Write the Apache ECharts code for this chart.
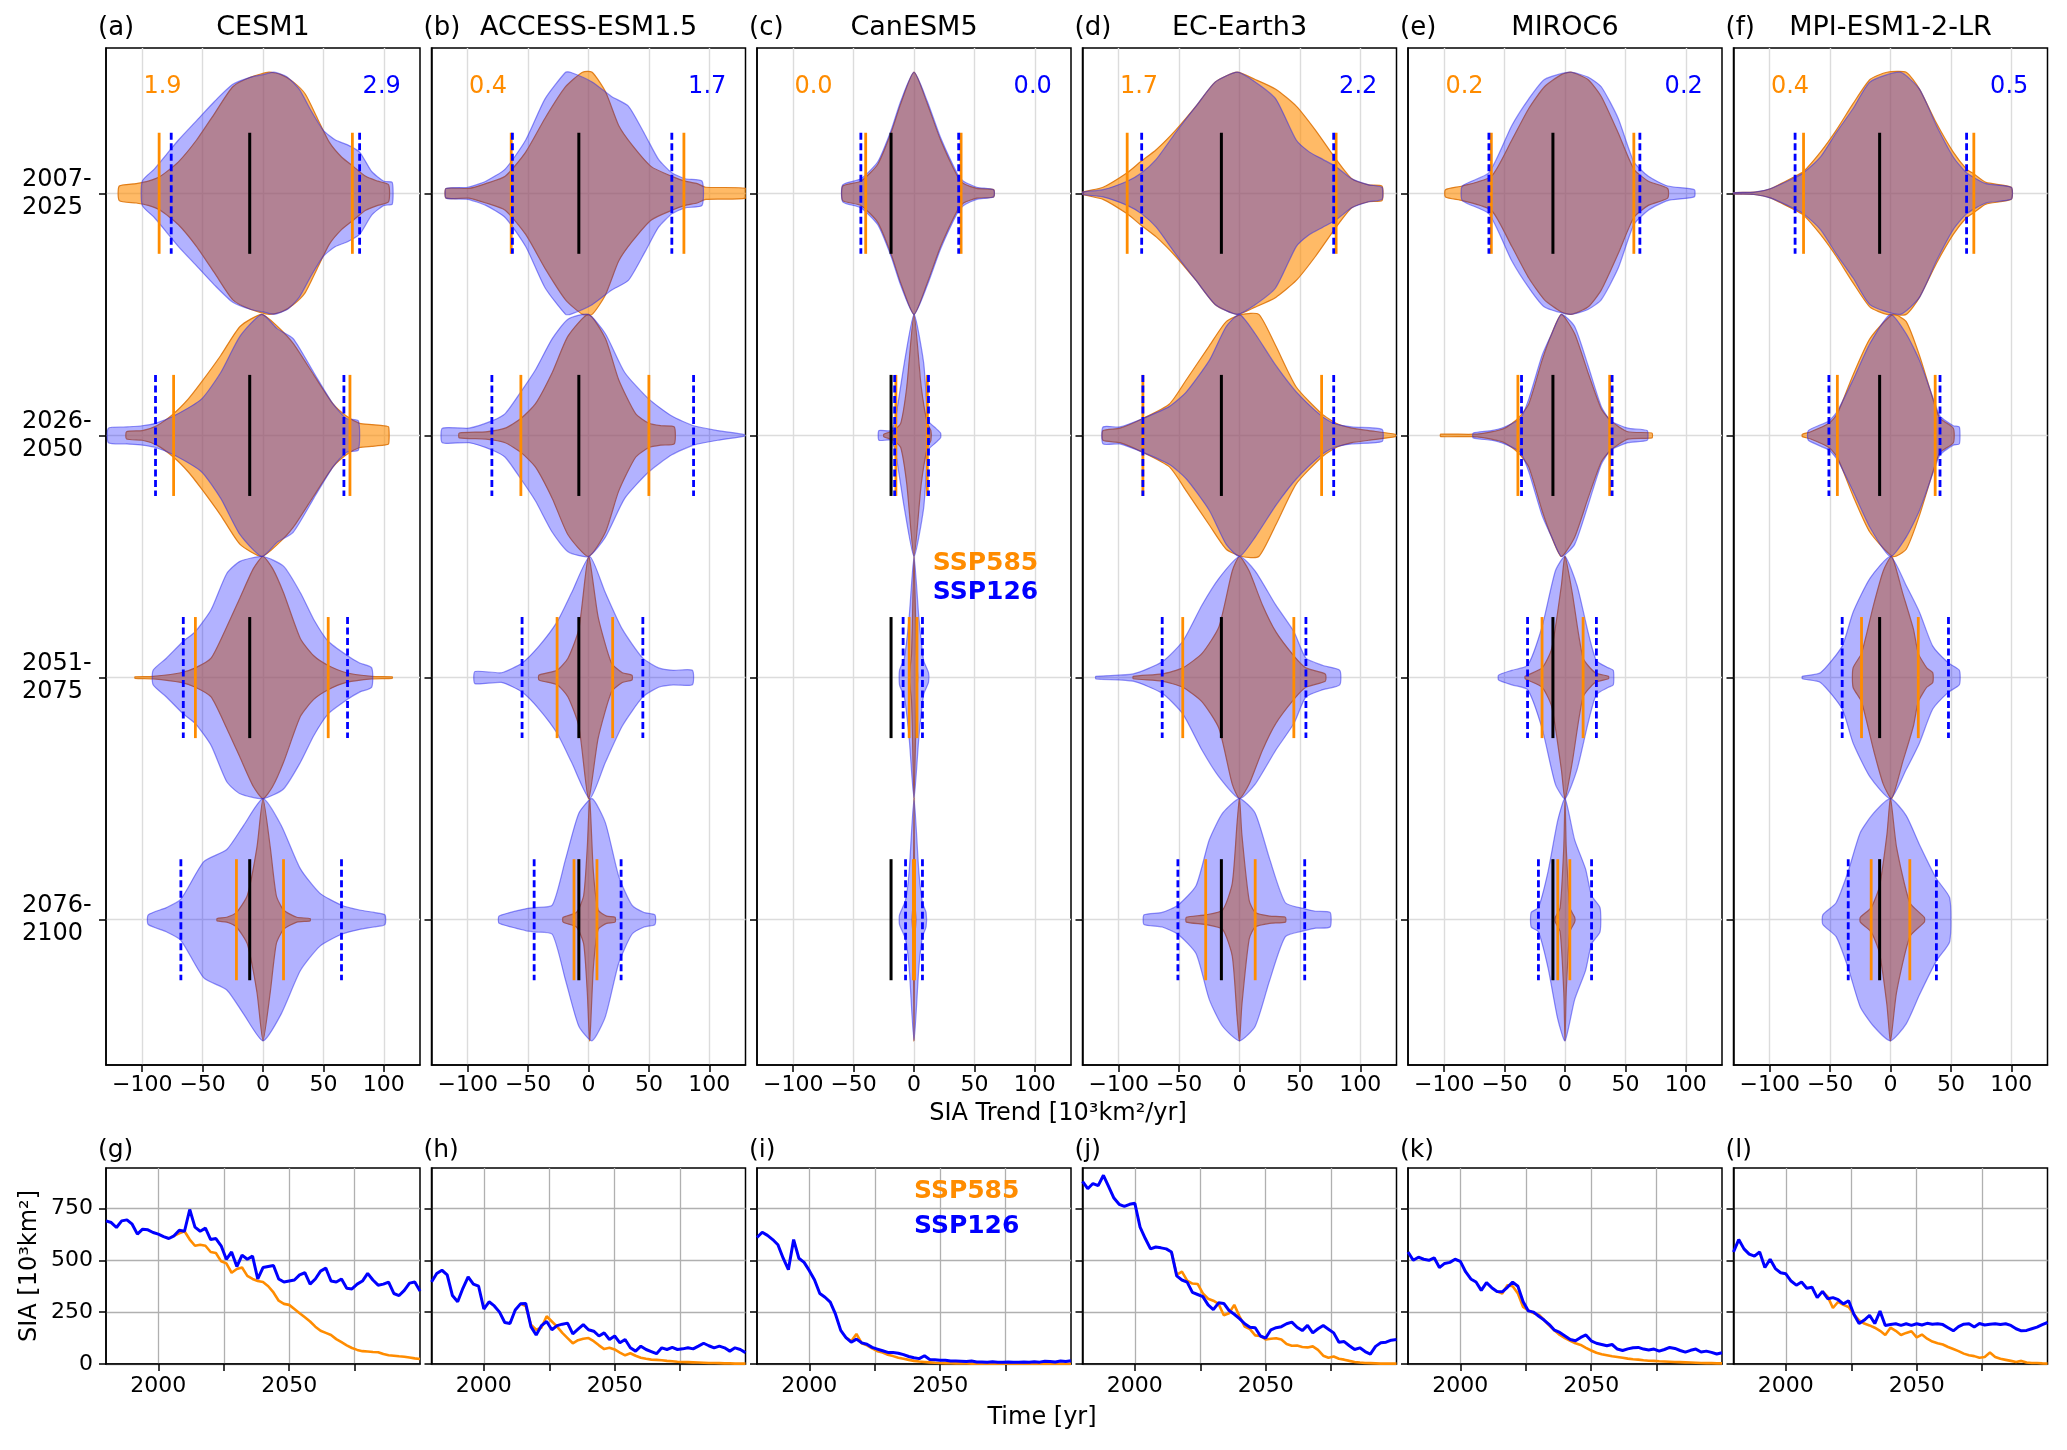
<!DOCTYPE html>
<html>
<head>
<meta charset="utf-8">
<script src="https://cdn.jsdelivr.net/npm/echarts@6.0.0/dist/echarts.min.js"></script>
<style>
  html, body { margin: 0; padding: 0; background: #fff; }
  #chart { width: 2067px; height: 1450px; }
</style>
</head>
<body>
<div id="chart"></div>
<script>
// ---- labels ----
const models = ["CESM1", "ACCESS-ESM1.5", "CanESM5", "EC-Earth3", "MIROC6", "MPI-ESM1-2-LR"];
const topLetters = ["(a)", "(b)", "(c)", "(d)", "(e)", "(f)"];
const botLetters = ["(g)", "(h)", "(i)", "(j)", "(k)", "(l)"];
const periods = ["2007-\n2025", "2026-\n2050", "2051-\n2075", "2076-\n2100"];
const trendTicks = [-100, -50, 0, 50, 100];
const yearTicks = [2000, 2025, 2050, 2075];
const yearLabels = [2000, 2050];
const siaTicks = [0, 250, 500, 750];

// numbers printed in the top corners of each violin panel
const num585 = ["1.9", "0.4", "0.0", "1.7", "0.2", "0.4"];
const num126 = ["2.9", "1.7", "0.0", "2.2", "0.2", "0.5"];

// ---- violin outlines: [trend, half width] per period ----
const cesm585Shape = [
  [[-119,0.03],[-105,0.04],[-95,0.05],[-85,0.07],[-70,0.13],[-55,0.22],[-40,0.33],[-25,0.44],[-10,0.48],[5,0.5],[15,0.49],[25,0.46],[35,0.41],[45,0.31],[55,0.21],[65,0.15],[75,0.11],[85,0.07],[95,0.05],[104,0.035]],
  [[-113,0.015],[-100,0.02],[-88,0.04],[-74,0.09],[-62,0.15],[-51,0.22],[-35,0.33],[-19,0.45],[-1,0.5],[12,0.45],[25,0.38],[42,0.25],[58,0.13],[69,0.08],[80,0.05],[90,0.045],[100,0.04],[104,0.035]],
  [[-106,0.003],[-91,0.005],[-68,0.02],[-56,0.04],[-43,0.08],[-30,0.21],[-19,0.33],[-8,0.45],[0,0.5],[8,0.45],[17,0.35],[31,0.16],[42,0.09],[54,0.05],[69,0.02],[90,0.005],[107,0.003]],
  [[-38,0.005],[-30,0.01],[-22,0.03],[-13,0.1],[-5,0.3],[0,0.5],[6,0.3],[11,0.1],[17,0.04],[28,0.01],[39,0.005]]
];
const cesm126Shape = [
  [[-100,0.05],[-90,0.1],[-80,0.16],[-70,0.22],[-55,0.3],[-40,0.38],[-25,0.45],[-10,0.48],[0,0.49],[9,0.5],[20,0.48],[30,0.43],[40,0.34],[50,0.26],[60,0.22],[70,0.2],[80,0.17],[90,0.09],[100,0.05],[107,0.045]],
  [[-128,0.03],[-113,0.035],[-100,0.04],[-89,0.05],[-74,0.08],[-51,0.15],[-35,0.26],[-19,0.41],[-1,0.5],[12,0.44],[25,0.4],[42,0.26],[58,0.13],[69,0.07],[79,0.06]],
  [[-91,0.03],[-80,0.08],[-66,0.15],[-56,0.19],[-43,0.28],[-30,0.43],[-19,0.48],[0,0.5],[17,0.46],[31,0.35],[42,0.24],[54,0.15],[70,0.09],[80,0.06],[90,0.04]],
  [[-95,0.02],[-80,0.05],[-68,0.085],[-49,0.24],[-30,0.29],[-16,0.39],[0,0.5],[15,0.39],[31,0.21],[47,0.11],[65,0.06],[80,0.04],[92,0.03],[101,0.02]]
];
const acc585Shape = [
  [[-118,0.02],[-99,0.02],[-85,0.04],[-69,0.07],[-52,0.17],[-36,0.31],[-19,0.44],[-5,0.5],[3,0.5],[14,0.42],[25,0.28],[36,0.2],[52,0.11],[69,0.07],[80,0.05],[90,0.04],[97,0.025],[130,0.02]],
  [[-107,0.01],[-85,0.015],[-69,0.03],[-56,0.07],[-44,0.13],[-30,0.26],[-17,0.41],[0,0.5],[14,0.4],[25,0.23],[39,0.09],[50,0.05],[60,0.04],[71,0.035]],
  [[-41,0.01],[-26,0.03],[-17,0.08],[-8,0.2],[0,0.5],[8,0.25],[19,0.06],[28,0.02],[36,0.01]],
  [[-21,0.01],[-10,0.03],[-4,0.1],[-1,0.3],[1,0.5],[4,0.2],[8,0.04],[15,0.015],[22,0.01]]
];
const acc126Shape = [
  [[-118,0.02],[-100,0.025],[-85,0.05],[-69,0.1],[-52,0.22],[-36,0.39],[-19,0.5],[-15,0.5],[3,0.46],[19,0.4],[33,0.36],[47,0.24],[58,0.14],[69,0.085],[80,0.06],[94,0.05]],
  [[-121,0.03],[-99,0.03],[-80,0.06],[-69,0.09],[-56,0.18],[-44,0.27],[-30,0.4],[-17,0.48],[0,0.5],[14,0.42],[30,0.26],[50,0.15],[69,0.08],[87,0.04],[107,0.02],[129,0.003]],
  [[-94,0.025],[-72,0.02],[-55,0.06],[-41,0.13],[-26,0.23],[-14,0.35],[1,0.5],[14,0.35],[28,0.2],[45,0.08],[58,0.04],[70,0.03],[86,0.03]],
  [[-74,0.015],[-52,0.045],[-45,0.05],[-30,0.06],[-19,0.25],[-8,0.44],[3,0.5],[14,0.4],[25,0.18],[36,0.06],[46,0.03],[55,0.02]]
];
const can585Shape = [
  [[-59,0.03],[-44,0.05],[-30,0.12],[-19,0.25],[-11,0.37],[0,0.5],[11,0.37],[22,0.22],[36,0.07],[41,0.04],[52,0.02],[66,0.015]],
  [[-25,0.005],[-17,0.02],[-11,0.05],[-6,0.2],[0,0.5],[6,0.2],[11,0.05],[14,0.02]],
  [[-4,0.01],[-2,0.1],[0,0.5],[2,0.1],[3,0.01]],
  [[-1.5,0.01],[-0.5,0.1],[0,0.5],[0.5,0.1],[1.5,0.01]]
];
const can126Shape = [
  [[-59,0.035],[-44,0.06],[-30,0.13],[-19,0.26],[-11,0.38],[0,0.5],[11,0.38],[22,0.23],[36,0.08],[41,0.05],[52,0.025],[66,0.015]],
  [[-29,0.02],[-19,0.02],[-15,0.08],[-8,0.3],[0,0.5],[8,0.3],[12,0.06],[18,0.03],[22,0.01]],
  [[-12,0.03],[-8,0.08],[-4,0.25],[0,0.5],[4,0.25],[8,0.07],[12,0.02]],
  [[-12,0.02],[-7,0.08],[-4,0.2],[0,0.5],[4,0.2],[7,0.07],[10,0.03]]
];
const ec585Shape = [
  [[-130,0.005],[-113,0.025],[-93,0.085],[-82,0.13],[-69,0.18],[-53,0.26],[-36,0.36],[-20,0.46],[-2,0.5],[13,0.47],[30,0.43],[47,0.36],[63,0.26],[80,0.14],[93,0.06],[107,0.035],[118,0.03]],
  [[-113,0.02],[-99,0.03],[-80,0.07],[-58,0.13],[-44,0.23],[-25,0.37],[-11,0.47],[2,0.5],[16,0.5],[30,0.37],[47,0.2],[68,0.09],[80,0.05],[93,0.03],[107,0.02],[129,0.005]],
  [[-88,0.005],[-64,0.015],[-47,0.04],[-31,0.1],[-17,0.21],[-6,0.44],[0,0.5],[8,0.44],[19,0.3],[30,0.19],[45,0.09],[55,0.04],[71,0.015]],
  [[-44,0.01],[-28,0.02],[-14,0.04],[-6,0.15],[-2,0.4],[0,0.5],[2,0.35],[8,0.08],[13,0.03],[25,0.015],[38,0.01]]
];
const ec126Shape = [
  [[-130,0.005],[-113,0.015],[-93,0.05],[-81,0.085],[-69,0.14],[-53,0.25],[-36,0.36],[-20,0.46],[-2,0.5],[13,0.46],[30,0.39],[47,0.22],[58,0.17],[69,0.14],[80,0.11],[93,0.06],[107,0.035],[118,0.025]],
  [[-113,0.035],[-99,0.035],[-80,0.07],[-58,0.12],[-44,0.18],[-25,0.31],[-11,0.45],[0,0.5],[13,0.42],[30,0.29],[47,0.18],[68,0.08],[78,0.05],[93,0.035],[118,0.025]],
  [[-119,0.005],[-88,0.015],[-64,0.065],[-47,0.15],[-31,0.3],[-17,0.41],[0,0.5],[13,0.44],[30,0.3],[45,0.19],[55,0.08],[69,0.05],[83,0.03]],
  [[-79,0.02],[-64,0.03],[-51,0.06],[-36,0.14],[-25,0.33],[-14,0.44],[0,0.5],[13,0.44],[25,0.25],[38,0.07],[54,0.045],[63,0.035],[75,0.03]]
];
const mi585Shape = [
  [[-99,0.015],[-85,0.03],[-61,0.07],[-44,0.22],[-30,0.35],[-17,0.44],[-3,0.49],[5,0.5],[19,0.47],[30,0.4],[44,0.25],[57,0.1],[69,0.05],[85,0.02]],
  [[-103,0.005],[-76,0.005],[-61,0.015],[-50,0.03],[-39,0.07],[-30,0.13],[-19,0.31],[-11,0.42],[-3,0.5],[8,0.42],[19,0.26],[30,0.11],[38,0.06],[52,0.015],[72,0.01]],
  [[-33,0.005],[-19,0.04],[-11,0.12],[-3,0.38],[0,0.5],[6,0.35],[15,0.08],[25,0.02],[36,0.005]],
  [[-8,0.01],[-4,0.05],[-1,0.3],[0,0.5],[1,0.3],[4,0.05],[8,0.01]]
];
const mi126Shape = [
  [[-85,0.03],[-63,0.085],[-44,0.28],[-30,0.39],[-17,0.47],[4,0.5],[19,0.48],[30,0.44],[44,0.31],[57,0.13],[69,0.07],[85,0.03],[107,0.015]],
  [[-76,0.01],[-61,0.02],[-50,0.035],[-37,0.07],[-30,0.15],[-19,0.33],[-11,0.42],[-3,0.5],[8,0.45],[19,0.29],[30,0.12],[38,0.06],[52,0.03],[68,0.02]],
  [[-55,0.01],[-44,0.03],[-31,0.05],[-19,0.21],[-8,0.44],[0,0.5],[10,0.38],[19,0.19],[26,0.07],[36,0.04],[40,0.03]],
  [[-28,0.03],[-22,0.05],[-14,0.2],[-6,0.41],[0,0.5],[8,0.33],[17,0.21],[22,0.1],[29,0.05]]
];
const mpi585Shape = [
  [[-130,0.003],[-113,0.005],[-99,0.02],[-79,0.07],[-72,0.09],[-58,0.17],[-45,0.26],[-31,0.37],[-17,0.47],[-3,0.5],[13,0.5],[24,0.43],[38,0.29],[52,0.17],[63,0.1],[69,0.08],[79,0.045],[100,0.025]],
  [[-73,0.005],[-66,0.015],[-51,0.05],[-44,0.09],[-31,0.25],[-17,0.4],[2,0.5],[13,0.47],[24,0.33],[37,0.12],[41,0.07],[52,0.03]],
  [[-31,0.04],[-24,0.1],[-14,0.3],[-6,0.44],[1,0.5],[10,0.35],[19,0.2],[23,0.1],[30,0.04],[35,0.02]],
  [[-25,0.01],[-16,0.05],[-9,0.14],[-3,0.35],[0,0.5],[5,0.3],[16,0.07],[28,0.01]]
];
const mpi126Shape = [
  [[-130,0.003],[-113,0.005],[-99,0.02],[-79,0.065],[-72,0.085],[-58,0.15],[-45,0.25],[-31,0.35],[-17,0.46],[8,0.5],[24,0.43],[38,0.28],[52,0.15],[63,0.085],[79,0.04],[100,0.025]],
  [[-68,0.02],[-51,0.06],[-44,0.1],[-31,0.23],[-17,0.38],[0,0.5],[13,0.42],[24,0.31],[37,0.13],[41,0.08],[52,0.04],[57,0.035]],
  [[-73,0.005],[-58,0.02],[-40,0.13],[-31,0.27],[-17,0.41],[0,0.5],[13,0.38],[24,0.27],[35,0.13],[48,0.06],[57,0.03]],
  [[-56,0.02],[-45,0.07],[-35,0.2],[-25,0.36],[-14,0.44],[0,0.5],[13,0.43],[24,0.31],[38,0.17],[49,0.09]]
];

// ---- percentile markers (low / high) per period, and reference trend ----
const lo585 = [[-86,-74,-56,-22],[-64,-56,-26,-12],[-40,-15,-4,-0.5],[-93,-80,-47,-28],[-61,-39,-19,-6],[-72,-44,-24,-16]];
const hi585 = [[74,72,54,17],[79,50,20,7],[39,11,2.5,0.5],[80,68,45,13],[57,37,15,4],[69,37,23,16]];
const lo126 = [[-76,-89,-66,-68],[-63,-80,-55,-45],[-44,-16,-9,-7],[-81,-80,-64,-51],[-63,-36,-31,-22],[-79,-51,-40,-35]];
const hi126 = [[80,67,70,65],[69,87,45,27],[37,12,7,7],[78,78,55,54],[62,39,26,22],[63,41,48,38]];
const refTrend = [-11, -8, -19, -15, -10, -9];

// ---- SIA time series, 2-year steps ----
const cesmHist = [690,682,658,690,695,674,626,650,647,634,626,614,605,618];              // 1980-2006
const cesm585 = [618,630,640,600,570,575,570,540,535,495,485,440,458,465,425,410,400,395,375,345,305,290,285,265,245,225,205,180,160,150,140,120,105,90,77,68,62,60,58,57,48,42,40,37,35,31,27,24]; // 2006-2100
const cesm126 = [618,645,640,745,660,640,655,600,605,570,505,540,470,525,505,520,410,465,470,475,410,395,400,405,430,440,385,410,448,462,400,395,410,365,362,385,400,437,405,380,385,395,340,330,355,390,395,352];
const accHist = [395,436,452,430,330,300,365,420,385,375,265,300,280,250,200,195,260,290]; // 1980-2014
const acc585 = [290,280,190,165,175,230,205,180,150,125,100,115,122,125,110,90,72,78,70,55,42,52,40,30,25,21,20,18,15,13,11,10,9,8,7,6,5,5,4,3,3,2,2,2]; // 2014-2100
const acc126 = [290,292,180,140,185,205,165,185,192,197,145,168,190,165,158,135,150,118,135,102,118,78,62,86,70,60,50,78,70,80,70,73,78,73,86,100,88,78,86,78,62,78,70,55];
const canHist = [610,635,620,600,575,510,455,600,510,490,450,405,340,322,298,240,162,127];
const can585 = [127,110,145,100,90,75,62,55,45,38,30,25,20,15,12,10,8,6,5,4,4,3,3,3,2,2,2,2,2,1,1,1,1,1,1,1,1,1,1,1,1,1,1,1];
const can126 = [127,105,120,102,95,80,72,64,56,55,52,45,36,30,26,40,22,20,18,18,15,14,13,12,14,10,10,9,11,8,8,10,8,9,10,8,11,9,13,12,10,14,12,16];
const ecHist = [880,845,870,860,910,855,800,770,760,770,775,660,605,555,564,560,555,540];
const ec585 = [540,430,445,402,388,386,340,315,305,290,235,245,285,230,180,168,138,135,118,122,124,118,96,88,89,82,80,85,68,40,30,36,25,21,15,10,7,5,4,3,2,2,2,2];
const ec126 = [540,425,405,395,345,335,325,285,262,295,292,258,240,219,194,177,175,135,125,165,175,180,194,202,177,161,186,150,170,186,168,150,105,108,88,70,78,60,48,85,102,105,115,118];
const miHist = [540,500,515,505,500,512,465,485,490,505,495,445,410,395,355,392,368,350];
const mi585 = [350,340,380,375,340,275,258,245,238,212,185,161,140,125,112,100,92,78,65,54,47,42,37,34,30,26,23,21,18,16,15,13,12,11,10,9,8,7,6,5,4,4,3,3];
const mi126 = [350,348,370,395,375,300,256,250,230,212,190,163,152,135,118,112,128,140,112,100,94,88,94,72,65,73,78,80,72,68,72,62,70,80,75,65,57,66,72,58,62,56,48,54];
const mpiHist = [540,600,555,530,520,540,465,505,460,440,435,400,380,395,365,370,320,350];
const mpi585 = [350,325,270,300,285,275,240,210,195,186,175,160,140,175,160,140,150,158,128,142,122,108,100,94,82,72,62,50,42,38,30,34,55,34,25,20,15,10,15,7,5,5,3,2];
const mpi126 = [350,315,320,310,290,305,240,195,212,235,195,255,186,190,194,186,194,186,194,188,196,192,194,190,175,160,180,192,194,178,195,188,192,194,190,194,186,170,160,162,170,178,190,200];

const shapes585 = [cesm585Shape, acc585Shape, can585Shape, ec585Shape, mi585Shape, mpi585Shape];
const shapes126 = [cesm126Shape, acc126Shape, can126Shape, ec126Shape, mi126Shape, mpi126Shape];
const hists = [cesmHist, accHist, canHist, ecHist, miHist, mpiHist];
const ssp585 = [cesm585, acc585, can585, ec585, mi585, mpi585];
const ssp126 = [cesm126, acc126, can126, ec126, mi126, mpi126];
const branchYear = [2006, 2014, 2014, 2014, 2014, 2014];

// ---- layout ----
const FONT = '"DejaVu Sans", sans-serif';
const ORANGE = "#ff8c00";
const BLUE = "#0000ff";
const left0 = 106, stride = 325.5, panelW = 314;
const topY = 48, topH = 1017, botY = 1168, botH = 196;

function toYears(start, vals) {
  return vals.map((v, i) => [start + 2 * i, v]);
}
function fmtMinus(v) {
  return v < 0 ? "\u2212" + (-v) : String(v);
}

function violinItem(shapes, fill, stroke) {
  return function (params, api) {
    const p = api.value(1);
    const prof = shapes[params.dataIndex];
    if (!prof) return null;
    const top = prof.map(d => api.coord([d[0], p - d[1]]));
    const bot = prof.slice().reverse().map(d => api.coord([d[0], p + d[1]]));
    return {
      type: "polygon",
      shape: { points: top.concat(bot), smooth: 0.2 },
      style: { fill: fill, stroke: stroke, lineWidth: 1.2 }
    };
  };
}
function markItem(color, width, dash) {
  return function (params, api) {
    const x = api.value(0), p = api.value(1);
    const a = api.coord([x, p - 0.25]);
    const b = api.coord([x, p + 0.25]);
    const style = { stroke: color, lineWidth: width };
    if (dash) style.lineDash = dash;
    return {
      type: "line",
      shape: { x1: a[0], y1: a[1], x2: b[0], y2: b[1] },
      style: style
    };
  };
}
function txt(x, y, text, size, color, align, bold) {
  return {
    type: "text", x: x, y: y, z: 100,
    style: {
      text: text, fill: color || "#000", font: (bold ? "bold " : "") + size + "px " + FONT,
      textAlign: align || "center", align: align || "center",
      textVerticalAlign: "middle", verticalAlign: "middle"
    }
  };
}

const grids = [], xAxes = [], yAxes = [], series = [], graphics = [];
const blackLine = { show: true, onZero: false, lineStyle: { color: "#000", width: 1.5 } };
const blackTick = { color: "#000", width: 1.5 };

models.forEach((name, i) => {
  const left = left0 + i * stride;
  const gi = 6 + i;

  // top violin panel
  grids[i] = { left: left, top: topY, width: panelW, height: topH, show: true, borderColor: "#000", borderWidth: 1.5 };
  xAxes[i] = {
    gridIndex: i, type: "value", min: -130, max: 130,
    axisLine: blackLine,
    axisTick: { show: true, customValues: trendTicks, length: 7, lineStyle: blackTick },
    axisLabel: { customValues: trendTicks, formatter: fmtMinus, fontSize: 22, color: "#000", margin: 9, fontFamily: FONT },
    splitLine: { show: true, lineStyle: { color: "#dcdcdc", width: 1.4 } }
  };
  yAxes[i] = {
    gridIndex: i, type: "value", inverse: true, min: -0.6, max: 3.6,
    axisLine: blackLine,
    axisTick: { show: true, customValues: [0, 1, 2, 3], length: 7, lineStyle: blackTick },
    axisLabel: {
      show: i === 0, customValues: [0, 1, 2, 3], formatter: v => periods[v],
      align: "left", margin: 84, fontSize: 24, lineHeight: 28, color: "#000", fontFamily: FONT
    },
    splitLine: { show: true, lineStyle: { color: "#dcdcdc", width: 1.4 } }
  };

  // bottom time-series panel
  grids[gi] = { left: left, top: botY, width: panelW, height: botH, show: true, borderColor: "#000", borderWidth: 1.5 };
  xAxes[gi] = {
    gridIndex: gi, type: "value", min: 1980, max: 2100,
    axisLine: blackLine,
    axisTick: { show: true, customValues: yearTicks, length: 7, lineStyle: blackTick },
    axisLabel: { customValues: yearLabels, formatter: v => String(v), fontSize: 22, color: "#000", margin: 11, fontFamily: FONT },
    splitLine: { show: true, lineStyle: { color: "#b0b0b0", width: 1.3 } }
  };
  yAxes[gi] = {
    gridIndex: gi, type: "value", min: 0, max: 945,
    axisLine: blackLine,
    axisTick: { show: true, customValues: siaTicks, length: 7, lineStyle: blackTick },
    axisLabel: { show: i === 0, customValues: siaTicks, formatter: v => String(v), fontSize: 22, color: "#000", margin: 13, fontFamily: FONT },
    splitLine: { show: true, lineStyle: { color: "#b0b0b0", width: 1.3 } }
  };

  const vData = [0, 1, 2, 3].map(p => [0, p]);
  series.push({
    type: "custom", xAxisIndex: i, yAxisIndex: i, z: 2, clip: true,
    renderItem: violinItem(shapes585[i], "rgba(255,140,0,0.6)", "rgba(220,110,0,0.85)"), data: vData
  });
  series.push({
    type: "custom", xAxisIndex: i, yAxisIndex: i, z: 3, clip: true,
    renderItem: violinItem(shapes126[i], "rgba(0,0,255,0.3)", "rgba(40,40,235,0.5)"), data: vData
  });
  const orangeMarks = [], blueMarks = [], refMarks = [];
  for (let p = 0; p < 4; p++) {
    orangeMarks.push([lo585[i][p], p], [hi585[i][p], p]);
    blueMarks.push([lo126[i][p], p], [hi126[i][p], p]);
    refMarks.push([refTrend[i], p]);
  }
  series.push({ type: "custom", xAxisIndex: i, yAxisIndex: i, z: 4, renderItem: markItem(ORANGE, 2.8), data: orangeMarks });
  series.push({ type: "custom", xAxisIndex: i, yAxisIndex: i, z: 5, renderItem: markItem(BLUE, 2.8, [7, 3.5]), data: blueMarks });
  series.push({ type: "custom", xAxisIndex: i, yAxisIndex: i, z: 6, renderItem: markItem("#000", 3), data: refMarks });

  const b = branchYear[i];
  series.push({
    type: "line", xAxisIndex: gi, yAxisIndex: gi, z: 3, showSymbol: false, symbol: "none",
    lineStyle: { color: ORANGE, width: 2.6 }, data: toYears(b, ssp585[i])
  });
  series.push({
    type: "line", xAxisIndex: gi, yAxisIndex: gi, z: 4, showSymbol: false, symbol: "none",
    lineStyle: { color: BLUE, width: 3 },
    data: toYears(1980, hists[i]).concat(toYears(b, ssp126[i]).slice(1))
  });

  // texts
  graphics.push(txt(left - 8, 28, topLetters[i], 26, "#000", "left"));
  graphics.push(txt(left + panelW / 2, 28, name, 27, "#000", "center"));
  graphics.push(txt(left + 0.18 * panelW, 87, num585[i], 24, ORANGE, "center"));
  graphics.push(txt(left + 0.878 * panelW, 87, num126[i], 24, BLUE, "center"));
  graphics.push(txt(left - 8, 1150, botLetters[i], 25, "#000", "left"));
  if (i === 2) {
    graphics.push(txt(left + 0.56 * panelW, 563, "SSP585", 25, ORANGE, "left", true));
    graphics.push(txt(left + 0.56 * panelW, 592, "SSP126", 25, BLUE, "left", true));
    graphics.push(txt(left + 0.5 * panelW, 1191, "SSP585", 25, ORANGE, "left", true));
    graphics.push(txt(left + 0.5 * panelW, 1226, "SSP126", 25, BLUE, "left", true));
  }
});

graphics.push(txt(1058, 1114, "SIA Trend [10³km²/yr]", 24, "#000", "center"));
graphics.push(txt(1042, 1418, "Time [yr]", 24, "#000", "center"));
const yName = txt(30, 1266, "SIA [10³km²]", 24, "#000", "center");
yName.rotation = Math.PI / 2;
graphics.push(yName);

const chart = echarts.init(document.getElementById("chart"));
chart.setOption({
  animation: false,
  backgroundColor: "#fff",
  textStyle: { fontFamily: FONT },
  grid: grids,
  xAxis: xAxes,
  yAxis: yAxes,
  series: series,
  graphic: graphics
});
</script>
</body>
</html>
